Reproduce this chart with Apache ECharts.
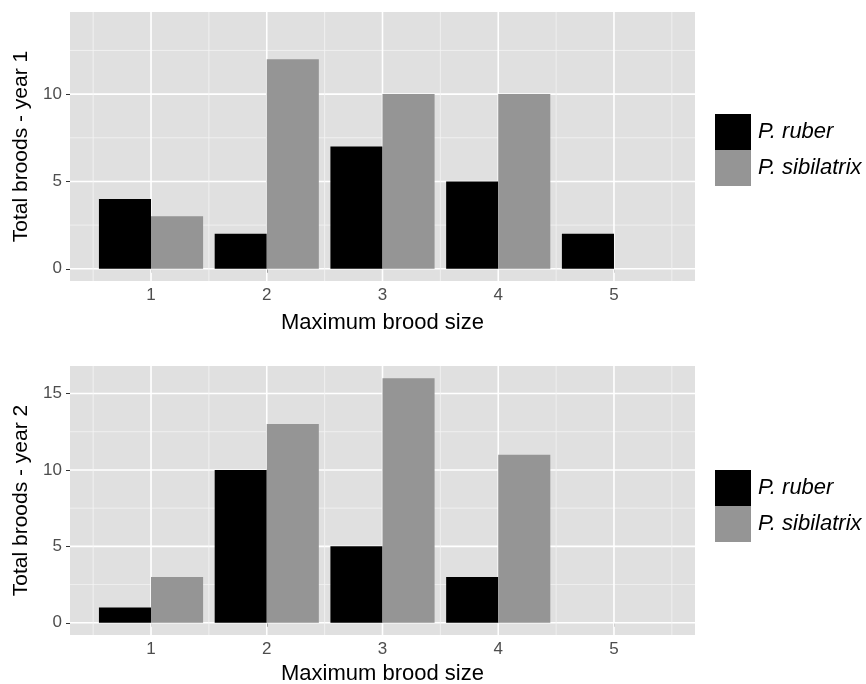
<!DOCTYPE html>
<html>
<head>
<meta charset="utf-8">
<script src="https://cdn.jsdelivr.net/npm/echarts@6/dist/echarts.min.js"></script>
<style>html,body{margin:0;padding:0;background:#fff}#c{width:866px;height:684px}</style>
</head>
<body>
<div id="c"></div>
<script>
const categories = [1, 2, 3, 4, 5];
const seriesNames = ['P. ruber', 'P. sibilatrix'];
const ruberYear1 = [4, 2, 7, 5, 2];
const sibilatrixYear1 = [3, 12, 10, 10, 0];
const ruberYear2 = [1, 10, 5, 3, 0];
const sibilatrixYear2 = [3, 13, 16, 11, 0];
const yTicksYear1 = [0, 5, 10];
const yTicksYear2 = [0, 5, 10, 15];
const yMinorYear1 = [2.5, 7.5, 12.5];
const yMinorYear2 = [2.5, 7.5, 12.5];
const xMinor = [0.5, 1.5, 2.5, 3.5, 4.5, 5.5];
const yTitles = ['Total broods - year 1', 'Total broods - year 2'];
const xTitle = 'Maximum brood size';

const FONT = "'Liberation Sans', Arial, sans-serif";
const BLACK = '#000000';
const GREY = '#959595';
const BAR_W = 0.45;

function toPairs(vals) {
  return categories.map((c, i) => [c, vals[i]]).filter(d => d[1] > 0);
}

function barSeries(name, vals, gi, off, color) {
  return {
    type: 'custom', name: name, xAxisIndex: gi, yAxisIndex: gi, z: 5,
    itemStyle: { color: color },
    encode: { x: 0, y: 1 },
    data: toPairs(vals),
    renderItem: function (params, api) {
      const x = api.value(0), v = api.value(1);
      const p0 = api.coord([x + off, v]);
      const p1 = api.coord([x + off + BAR_W, 0]);
      return {
        type: 'rect',
        shape: { x: p0[0], y: p0[1], width: p1[0] - p0[0], height: p1[1] - p0[1] },
        style: { fill: color }
      };
    }
  };
}

function gridLines(gi, hMajor, hMinor) {
  const data = [];
  hMajor.forEach(v => data.push([1, v, 0, 1]));
  hMinor.forEach(v => data.push([1, v, 0, 0]));
  categories.forEach(v => data.push([v, 0, 1, 1]));
  xMinor.forEach(v => data.push([v, 0, 1, 0]));
  return {
    type: 'custom', xAxisIndex: gi, yAxisIndex: gi, z: 1, silent: true,
    encode: { x: 0, y: 1 },
    data: data,
    renderItem: function (params, api) {
      const cs = params.coordSys;
      const vertical = api.value(2) === 1;
      const major = api.value(3) === 1;
      let shape;
      if (vertical) {
        const px = api.coord([api.value(0), 0])[0];
        shape = { x1: px, y1: cs.y, x2: px, y2: cs.y + cs.height };
      } else {
        const py = api.coord([1, api.value(1)])[1];
        shape = { x1: cs.x, y1: py, x2: cs.x + cs.width, y2: py };
      }
      return {
        type: 'line', shape: shape,
        style: { stroke: major ? '#ffffff' : '#f4f4f4', lineWidth: major ? 1.6 : 0.8 }
      };
    }
  };
}

function xAxisCfg(gi, gap) {
  return {
    type: 'value', gridIndex: gi, min: 0.3, max: 5.7,
    name: xTitle, nameLocation: 'middle', nameGap: gap,
    nameTextStyle: { color: '#000', fontSize: 22, fontFamily: FONT },
    axisLine: { show: false },
    axisTick: { show: true, length: 4, customValues: categories, lineStyle: { color: '#333', width: 1 } },
    axisLabel: { customValues: categories, margin: 6, color: '#4d4d4d', fontSize: 17, fontFamily: FONT },
    splitLine: { show: false }
  };
}

function yAxisCfg(gi, min, max, ticks) {
  return {
    type: 'value', gridIndex: gi, min: min, max: max,
    name: yTitles[gi], nameLocation: 'middle', nameGap: 34,
    nameTextStyle: { color: '#000', fontSize: 21, fontFamily: FONT },
    axisLine: { show: false },
    axisTick: { show: true, length: 4, customValues: ticks, lineStyle: { color: '#333', width: 1 } },
    axisLabel: { customValues: ticks, margin: 8, color: '#4d4d4d', fontSize: 17, fontFamily: FONT },
    splitLine: { show: false }
  };
}

function legendCfg(top) {
  return {
    orient: 'vertical', left: 715, top: top, padding: 0,
    itemWidth: 36, itemHeight: 36, itemGap: 0,
    data: seriesNames.map(n => ({ name: n, icon: 'rect' })),
    textStyle: { color: '#000', fontSize: 22, fontStyle: 'italic', fontFamily: FONT, padding: [0, 0, 0, 2] }
  };
}

const chart = echarts.init(document.getElementById('c'));
chart.setOption({
  animation: false,
  backgroundColor: '#ffffff',
  grid: [
    { left: 70, width: 625, top: 12, height: 269, show: true, backgroundColor: '#e0e0e0', borderWidth: 0, outerBoundsMode: 'none', containLabel: false },
    { left: 70, width: 625, top: 366, height: 269, show: true, backgroundColor: '#e0e0e0', borderWidth: 0, outerBoundsMode: 'none', containLabel: false }
  ],
  xAxis: [xAxisCfg(0, 31), xAxisCfg(1, 28)],
  yAxis: [yAxisCfg(0, -0.7, 14.7, yTicksYear1), yAxisCfg(1, -0.8, 16.8, yTicksYear2)],
  legend: [legendCfg(114), legendCfg(470)],
  series: [
    gridLines(0, yTicksYear1, yMinorYear1),
    gridLines(1, yTicksYear2, yMinorYear2),
    barSeries(seriesNames[0], ruberYear1, 0, -BAR_W, BLACK),
    barSeries(seriesNames[1], sibilatrixYear1, 0, 0, GREY),
    barSeries(seriesNames[0], ruberYear2, 1, -BAR_W, BLACK),
    barSeries(seriesNames[1], sibilatrixYear2, 1, 0, GREY)
  ]
});
</script>
</body>
</html>
